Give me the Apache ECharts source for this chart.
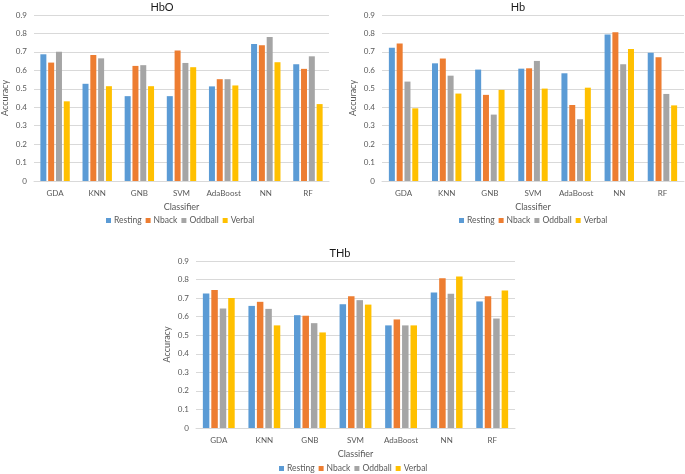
<!DOCTYPE html>
<html><head><meta charset="utf-8">
<script src="https://cdn.jsdelivr.net/npm/echarts@6/dist/echarts.min.js"></script>
<style>html,body{margin:0;padding:0;background:#fff}#c{width:685px;height:474px}</style>
</head><body><div id="c"></div>
<script>
const categories = ['GDA','KNN','GNB','SVM','AdaBoost','NN','RF'];
const seriesNames = ['Resting','Nback','Oddball','Verbal'];
const colors = ['#5B9BD5','#ED7D31','#A5A5A5','#FFC000'];
const chartTitles = ['HbO','Hb','THb'];

// HbO
const hboResting = [0.687,0.527,0.460,0.460,0.513,0.743,0.633];
const hboNback   = [0.642,0.683,0.624,0.707,0.552,0.736,0.608];
const hboOddball = [0.701,0.665,0.628,0.640,0.552,0.781,0.676];
const hboVerbal  = [0.432,0.514,0.514,0.617,0.518,0.644,0.417];
// Hb
const hbResting = [0.723,0.638,0.604,0.609,0.584,0.794,0.696];
const hbNback   = [0.745,0.664,0.467,0.611,0.412,0.807,0.671];
const hbOddball = [0.539,0.571,0.360,0.651,0.335,0.633,0.472];
const hbVerbal  = [0.394,0.474,0.494,0.501,0.506,0.716,0.410];
// THb
const thbResting = [0.725,0.658,0.608,0.667,0.553,0.730,0.682];
const thbNback   = [0.744,0.680,0.605,0.710,0.585,0.807,0.710];
const thbOddball = [0.644,0.642,0.565,0.689,0.553,0.723,0.590];
const thbVerbal  = [0.701,0.553,0.515,0.665,0.553,0.816,0.741];

const yTicks = {min:0,max:0.9,interval:0.1};

const dataSets = [
  [hboResting,hboNback,hboOddball,hboVerbal],
  [hbResting,hbNback,hbOddball,hbVerbal],
  [thbResting,thbNback,thbOddball,thbVerbal]
];

const FONT = 'Lato';
const TXT = '#595959';
const grids = [
  {left:29, top:15, width:300, height:166},
  {left:382, top:15, width:302, height:166},
  {left:196, top:261, width:319, height:167}
];
const titlePos = [{x:162,y:1},{x:518,y:1},{x:340,y:246.5}];
const legendPos = [{left:106,top:216},{left:459,top:216},{left:279,top:464}];
const barW = [6,6,6.5];

const option = {
  animation:false,
  backgroundColor:'#fff',
  textStyle:{fontFamily:FONT},
  title: chartTitles.map((t,i)=>({
    text:t, left:titlePos[i].x, top:titlePos[i].y, textAlign:'center', padding:0,
    textStyle:{fontFamily:FONT,fontSize:11,fontWeight:'normal',color:'#1a1a1a',lineHeight:13}
  })),
  legend: legendPos.map(p=>({
    data:seriesNames, left:p.left, top:p.top, icon:'rect', itemWidth:5, itemHeight:5, itemGap:4,
    textStyle:{fontFamily:FONT,fontSize:8.5,color:TXT,padding:[0,0,0,-2]}, padding:0
  })),
  grid: grids,
  xAxis: grids.map((g,i)=>({
    type:'category', gridIndex:i, data:categories,
    name:'Classifier', nameLocation:'middle', nameGap:22,
    nameTextStyle:{fontFamily:FONT,fontSize:9,color:TXT},
    axisLine:{lineStyle:{color:'#D9D9D9'}}, axisTick:{show:false},
    axisLabel:{interval:0,fontFamily:FONT,fontSize:8,color:TXT,margin:8}
  })),
  yAxis: grids.map((g,i)=>({
    type:'value', gridIndex:i, min:yTicks.min, max:yTicks.max, interval:yTicks.interval,
    name:'Accuracy', nameLocation:'middle', nameGap:24,
    nameTextStyle:{fontFamily:FONT,fontSize:9,color:TXT},
    axisLine:{show:false}, axisTick:{show:false},
    splitLine:{lineStyle:{color:'#D9D9D9',width:1}},
    axisLabel:{fontFamily:FONT,fontSize:8,color:TXT,margin:7,
      formatter:v=>v===0?'0':v.toFixed(1)}
  })),
  series: []
};
dataSets.forEach((set,gi)=>{
  set.forEach((vals,si)=>{
    option.series.push({
      type:'bar', name:seriesNames[si], xAxisIndex:gi, yAxisIndex:gi,
      data:vals, barWidth:barW[gi], barGap:'30%',
      itemStyle:{color:colors[si]}
    });
  });
});
const chart = echarts.init(document.getElementById('c'),null,{renderer:'canvas'});
chart.setOption(option);
</script></body></html>
